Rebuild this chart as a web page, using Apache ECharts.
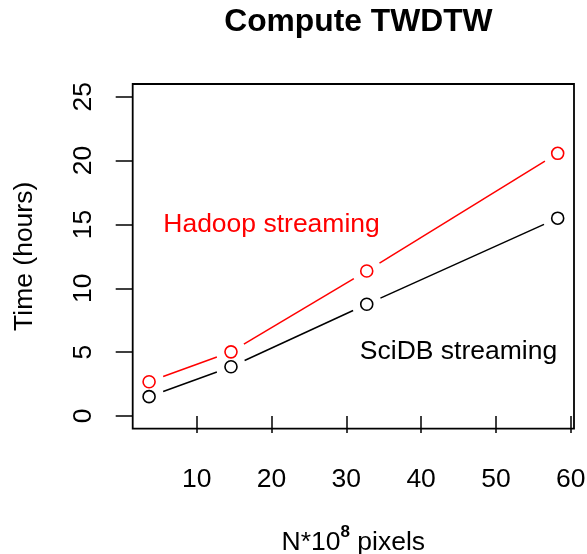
<!DOCTYPE html>
<html>
<head>
<meta charset="utf-8">
<script src="https://cdn.jsdelivr.net/npm/echarts@6/dist/echarts.min.js"></script>
<style>
html,body{margin:0;padding:0;background:#fff;}
#chart{width:587px;height:554px;}
</style>
</head>
<body>
<div id="chart"></div>
<script>
// ---- data ----
var xValues = [3.63, 14.58, 32.73, 58.26];
var hadoopHours = [2.68, 5.02, 11.35, 20.57];
var scidbHours = [1.51, 3.85, 8.75, 15.49];
var xTicks = [10, 20, 30, 40, 50, 60];
var yTicks = [0, 5, 10, 15, 20, 25];
var seriesNames = ['Hadoop streaming', 'SciDB streaming'];
var labelPositions = [[20, 15], [45, 5]];
var titleText = 'Compute TWDTW';
var xTitle = '{a|N*10}{s|8}{a| pixels}';
var yTitle = 'Time (hours)';

var FONT = 'Liberation Sans, Arial, Helvetica, sans-serif';
var BASE = 26.5;
var colors = ['#ff0000', '#000000'];
var GAP = 15;

function pairs(ys) { return xValues.map(function (x, i) { return [x, ys[i]]; }); }
function segments(ys) {
  var out = [];
  for (var i = 0; i < xValues.length - 1; i++) out.push([xValues[i], ys[i], xValues[i + 1], ys[i + 1]]);
  return out;
}
var allSeries = [hadoopHours, scidbHours];

var series = [];
allSeries.forEach(function (ys, k) {
  series.push({
    type: 'custom', data: segments(ys), z: 2, silent: true, animation: false,
    encode: { x: [0, 2], y: [1, 3] },
    renderItem: function (params, api) {
      var p0 = api.coord([api.value(0), api.value(1)]);
      var p1 = api.coord([api.value(2), api.value(3)]);
      var dx = p1[0] - p0[0], dy = p1[1] - p0[1];
      var len = Math.sqrt(dx * dx + dy * dy);
      var ux = dx / len, uy = dy / len;
      return {
        type: 'line',
        shape: { x1: p0[0] + ux * GAP, y1: p0[1] + uy * GAP, x2: p1[0] - ux * GAP, y2: p1[1] - uy * GAP },
        style: { stroke: colors[k], lineWidth: 1.5 }
      };
    }
  });
});
allSeries.forEach(function (ys, k) {
  series.push({
    type: 'scatter', data: pairs(ys), symbol: 'circle', symbolSize: 12,
    itemStyle: { color: 'rgba(255,255,255,0)', borderColor: colors[k], borderWidth: 1.6, opacity: 1 },
    z: 4, silent: true, animation: false
  });
});
series.push({
  type: 'custom', z: 5, silent: true, animation: false,
  data: labelPositions.map(function (p, i) { return [p[0], p[1], i]; }),
  encode: { x: 0, y: 1 },
  renderItem: function (params, api) {
    var pt = api.coord([api.value(0), api.value(1)]);
    var i = api.value(2);
    return {
      type: 'text', x: pt[0], y: pt[1],
      style: {
        text: seriesNames[i], fill: colors[i], fontSize: BASE, fontFamily: FONT,
        align: 'center', verticalAlign: 'middle'
      }
    };
  }
});

var chart = echarts.init(document.getElementById('chart'), null, { renderer: 'canvas' });
chart.setOption({
  backgroundColor: '#ffffff',
  animation: false,
  title: {
    text: titleText, left: 353.4, top: 1, textAlign: 'center',
    textStyle: { fontFamily: FONT, fontWeight: 'bold', fontSize: 31.8, color: '#000' }
  },
  grid: {
    left: 132.7, right: 13, top: 84, bottom: 125.3,
    outerBoundsMode: 'none', containLabel: false,
    show: true, borderColor: '#000', borderWidth: 1.8, backgroundColor: 'transparent'
  },
  xAxis: {
    type: 'value', min: 1.44, max: 60.44,
    splitLine: { show: false },
    axisLine: { show: false },
    axisTick: { show: true, length: 17, inside: false, customValues: xTicks, lineStyle: { color: '#000', width: 1.5 } },
    axisLabel: { customValues: xTicks, margin: 37, fontSize: BASE, fontFamily: FONT, color: '#000' },
    name: xTitle, nameLocation: 'middle', nameGap: 95,
    nameTextStyle: {
      fontFamily: FONT, color: '#000',
      rich: {
        a: { fontSize: BASE, fontFamily: FONT, color: '#000', lineHeight: 32, verticalAlign: 'bottom' },
        s: { fontSize: 17, fontFamily: FONT, fontWeight: 'bold', color: '#000', lineHeight: 32, verticalAlign: 'top' }
      }
    }
  },
  yAxis: {
    type: 'value', min: -1, max: 26,
    splitLine: { show: false },
    axisLine: { show: false },
    axisTick: { show: true, length: 17, inside: false, customValues: yTicks, lineStyle: { color: '#000', width: 1.5 } },
    axisLabel: { customValues: yTicks, rotate: 90, margin: 36, fontSize: BASE, fontFamily: FONT, color: '#000' },
    name: yTitle, nameLocation: 'middle', nameGap: 95,
    nameTextStyle: { fontSize: BASE, fontFamily: FONT, color: '#000' }
  },
  series: series
});
</script>
</body>
</html>
